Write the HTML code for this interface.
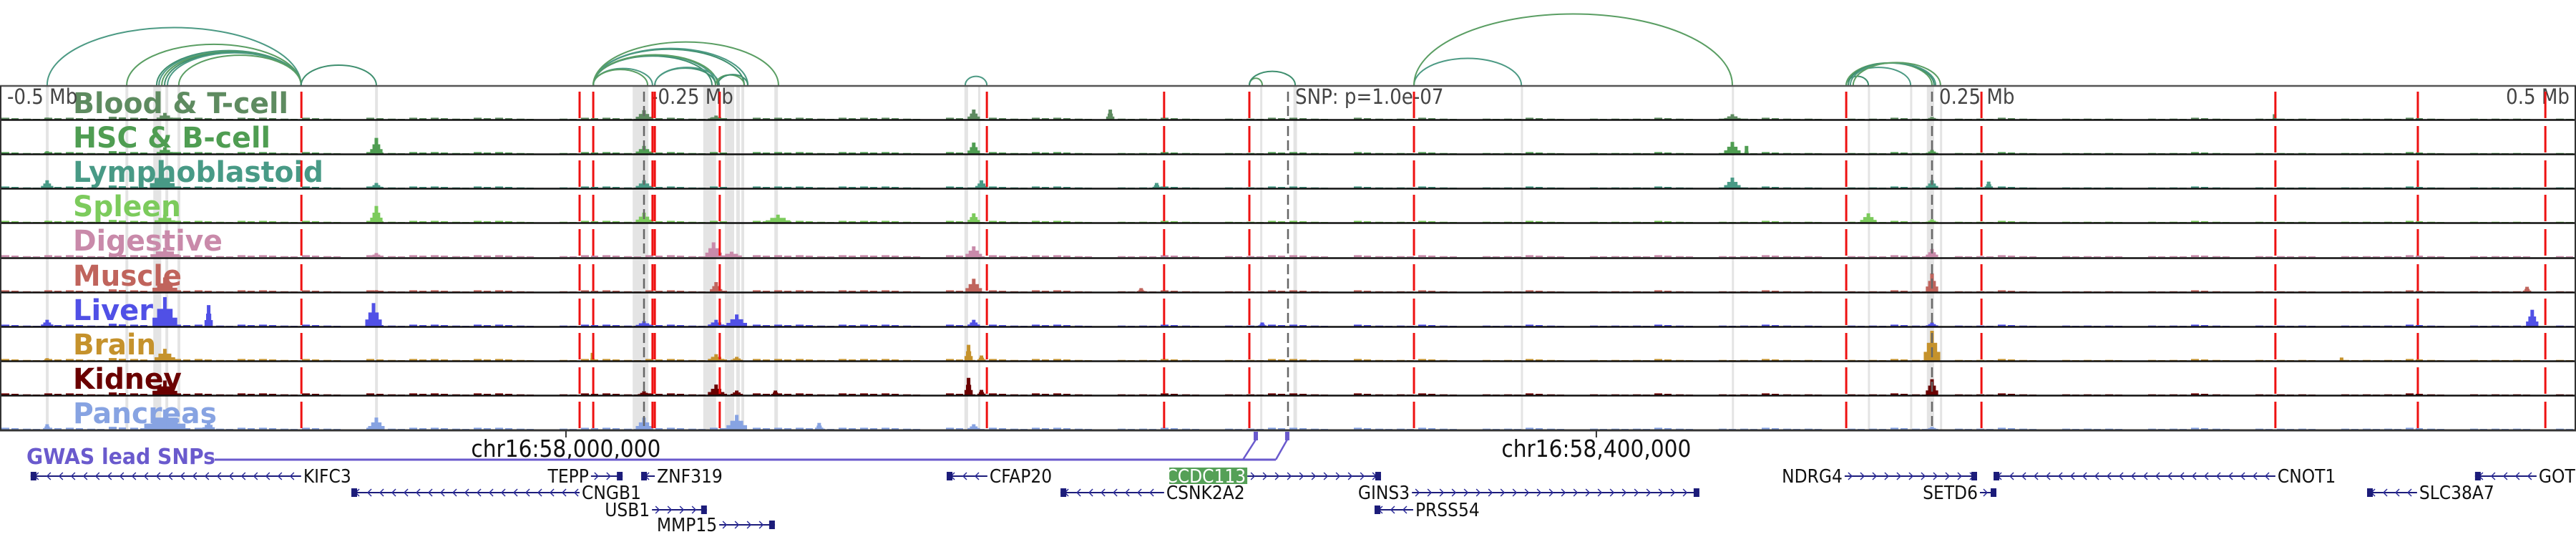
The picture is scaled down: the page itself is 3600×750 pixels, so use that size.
<!DOCTYPE html>
<html><head><meta charset="utf-8"><title>Genome tracks</title>
<style>
html,body{margin:0;padding:0;background:#fff;}
svg{display:block;font-family:"DejaVu Sans Condensed","DejaVu Sans","Liberation Sans Narrow","Liberation Sans",sans-serif;font-stretch:condensed;}
</style></head>
<body>
<svg id="chart" width="3600" height="750" viewBox="0 0 3600 750" xmlns="http://www.w3.org/2000/svg">
  <g id="arcs"></g>
  <g id="bands"></g>
  <g id="labels"></g>
  <g id="signals"></g>
  <g id="frame"></g>
  <g id="vlines"></g>
  <g id="axis"></g>
  <g id="gwas"></g>
  <g id="genes"></g>
</svg>
<script>
// ---- data (positions in kb relative to lead SNP) ----
const trackNames = ["Blood & T-cell","HSC & B-cell","Lymphoblastoid","Spleen","Digestive","Muscle","Liver","Brain","Kidney","Pancreas"];
const peaksBlood = [[-481.7,3,2],[-436,10,4],[-250,14,4],[-222,6,4],[-122,15,3],[-69,15,2],[172.5,8,4],[250,4,3],[383,8,1]];
const peaksHSC = [[-481.7,4,2],[-436,10,4],[-353.9,24,3],[-250,12,4],[-122,17,3],[172.5,18,4],[178,12,1],[250,6,3]];
const peaksLymph = [[-481.7,12,3],[-437,26,6],[-353.9,8,3],[-250,12,4],[-119,12,3],[-51,8,2],[172.5,16,4],[250,12,3],[272,10,2]];
const peaksSpleen = [[-481.7,3,2],[-436,12,5],[-353.9,25,3],[-250,15,4],[-198,12,6],[-122,14,3],[225.3,14,4],[250,5,3]];
const peaksDigestive = [[-436,14,7],[-353.9,6,3],[-223,22,4],[-216,8,5],[-122,16,4],[250,12,3]];
const peaksMuscle = [[-436,22,6],[-353.9,3,3],[-222,15,3],[-122,20,4],[-57,6,2],[250,28,3],[481,8,2]];
const peaksLiver = [[-481.7,10,3],[-436,44,6],[-419,32,2],[-355,35,4],[-250,8,4],[-222,10,4],[-214,18,5],[-122,10,3],[-10,6,2],[250,6,3],[483,25,3]];
const peaksBrain = [[-481.7,4,2],[-436,18,5],[-270,12,1],[-222,10,4],[-214,6,3],[-124,24,2],[-119,8,2],[250,45,4],[409,5,1]];
const peaksKidney = [[-436,22,6],[-250,6,3],[-222,16,4],[-214,7,3],[-199,7,2],[-124,26,2],[-119,8,2],[250,24,3]];
const peaksPancreas = [[-481.7,8,2],[-436,30,10],[-419,12,3],[-353.9,18,4],[-250,18,4],[-214,22,5],[-182,10,2],[-122,8,3],[250,4,3]];
const bgLevels = [2,1,2,2,1,3,2,0,2,2,1,2,2,1,2,1,0,2,1,2,2,1,2,2,1,0,1,2,2,1,
                  2,2,1,2,0,2,2,2,1,2,2,2,1,0,2,1,2,1,2,2,1,0,1,1,2,1,0,1,1,2,
                  2,1,0,2,1,1,2,1,0,1,1,2,1,0,1,1,1,2,1,0,1,1,2,1,1,0,1,1,2,1,
                  0,1,1,2,1,0,1,1,1,0,1,1,2,1,0,1,1,1,0,1,1,1,2,1,0,1,1,1,0,1];
const bandStart = [-482.2,-451.3,-440.5,-435.8,-431.1,-354.4,-254.4,-227,-218.6,-214.2,-212.2,-199.4,-125.6,-120.3,-10.8,2.1,90.4,172.3,225.1,241.5,248,253.1];
const bandEnd   = [-481.1,-450.2,-437.4,-434.7,-430,-353.3,-248.3,-222,-215,-212.8,-211.1,-198,-124.2,-119.5,-10,3.5,91.2,173.1,225.9,242.3,250.8,253.9];
const redLines = [-383,-275,-269.7,-246.7,-245.8,-220.6,-116.9,-48.1,-15,48.9,216.7,269.2,383.3,438.6,488.1];
const snpLines = [-250,0,250];
const arcStart = [-481.7,-450.8,-439.2,-438.3,-437.2,-436.1,-435,-430.6,-383.1,-269.7,-269.7,-269.7,-269.7,-269.7,-269.7,-269.7,-269.7,-245.8,-245.8,-222.2,-221.4,-125.3,-15,-15,48.9,48.9,216.7,216.7,216.7,217.5,218.3,219.4];
const arcEnd   = [-383.1,-383.1,-383.1,-383.1,-383.1,-383.1,-383.1,-383.1,-353.9,-246.7,-248.6,-223.6,-222.2,-221.4,-211.1,-209.7,-197.8,-222.2,-220.8,-211.1,-209.7,-116.9,-10,2.8,90.6,172.5,225.3,241.7,250,250.8,251.4,253.3];
const geneNames = ["KIFC3","TEPP","ZNF319","CNGB1","USB1","MMP15","CFAP20","CCDC113","CSNK2A2","GINS3","PRSS54","NDRG4","SETD6","CNOT1","SLC38A7","GOT2"];
const geneStart = [-488.1,-270.6,-251.1,-363.6,-246.9,-220.8,-132.5,-15.8,-88.3,48.1,33.6,216.1,268.6,273.9,418.9,460.8];
const geneEnd   = [-383.1,-258.3,-245.8,-275,-225.6,-199.2,-116.7,36.1,-48.1,159.7,48.6,267.5,275,383.3,438.3,484.7];
const geneStrand = ["-","+","-","-","+","+","-","+","-","+","-","+","+","-","-","-"];
const geneRow = [0,0,0,1,2,3,0,0,1,1,2,0,1,0,1,0];
const gwasSnps = [-12.5,-0.3];
const tickKb = [-280.3, 119.7];
const tickLabels = ["chr16:58,000,000","chr16:58,400,000"];
const mbLabels = ["-0.5 Mb","-0.25 Mb","SNP: p=1.0e-07","0.25 Mb","0.5 Mb"];
const mbKb = [-500,-250,0,250,500];

// ---- styling ----
const colors = ["#5e8b60","#4f9d52","#489a86","#7ccb5c","#c98aaa","#c0645c","#5050e6","#c5922c","#6a0000","#87a3e2"];
const labelW = [301,276,350,151,209,152,112,116,152,201];
const arcColors = ["#4c9a84","#5a9e63","#3f8f6f"];
const peaksAll = [peaksBlood,peaksHSC,peaksLymph,peaksSpleen,peaksDigestive,peaksMuscle,peaksLiver,peaksBrain,peaksKidney,peaksPancreas];
const rowTops = [120,168,216,264,312,361,409,457,505,553];
const rowH = 48, panelTop = 120, panelBot = 601;
const NS = "http://www.w3.org/2000/svg";
const x = kb => 1800 + kb * 3.6;
const yv = v => v * 42 / 45;
function mk(tag, attrs, parent, text){
  const e = document.createElementNS(NS, tag);
  for (const k in attrs) e.setAttribute(k, attrs[k]);
  if (text !== undefined) e.textContent = text;
  parent.appendChild(e);
  return e;
}
const G = id => document.getElementById(id);

// arcs
arcStart.forEach((s,i)=>{
  const x1 = x(s), x2 = x(arcEnd[i]);
  const spanPx = x2 - x1;
  const h = spanPx*0.21 + 6;
  const rx = spanPx/2;
  const p = mk("path",{d:`M${x1},119 A${rx},${h} 0 0 1 ${x2},119`,fill:"none",stroke:arcColors[i%3],"stroke-width":2},G("arcs"));
  
  
});

// bands
bandStart.forEach((s,i)=>{
  const r = mk("rect",{x:x(s),y:panelTop,width:Math.max(3,x(bandEnd[i])-x(s)),height:panelBot-panelTop,fill:"#e4e4e4"},G("bands"));
  
  
});

// labels
trackNames.forEach((n,i)=>{
  const t = mk("text",{x:102,y:rowTops[i]+38,"font-size":40,"font-weight":"bold",fill:colors[i],textLength:labelW[i],lengthAdjust:"spacingAndGlyphs"},G("labels"),n);
  
  
});

// signals
peaksAll.forEach((peaks,i)=>{
  const base = rowTops[i] + rowH - 1;
  const g = mk("g",{fill:colors[i]},G("signals"));
  
  
  bgLevels.forEach((v,b)=>{
    if(!v) return;
    const xs = x(-500 + b*1000/120);
    const r = mk("rect",{x:xs+2,y:base-v*1.3,width:11,height:v*1.3},g);
    
    
    const r2 = mk("rect",{x:xs+16,y:base-v*1.0,width:10,height:v*1.0},g);
    
    
  });
  peaks.forEach(p=>{
    const cx = x(p[0]), h = yv(p[1]), w = p[2]*3.6;
    const s = mk("rect",{x:cx-w*0.8,y:base-h*0.3,width:w*1.6,height:h*0.3},g);
    
    
    const s2 = mk("rect",{x:cx-w/2,y:base-h*0.6,width:w,height:h*0.6},g);
    
    
    const c = mk("rect",{x:cx-2.5,y:base-h,width:5,height:h},g);
    
    
  });
});

// frame
(function(){
  const f = G("frame");
  const t = mk("line",{x1:0,x2:3600,y1:120,y2:120,stroke:"#555","stroke-width":2.5},f);
  
  
  rowTops.forEach((yt,i)=>{
    if(i===0) return;
    const l = mk("line",{x1:0,x2:3600,y1:yt-0.5,y2:yt-0.5,stroke:"#111","stroke-width":2.5},f);
    
    
  });
  const lb = mk("line",{x1:1,x2:1,y1:120,y2:601,stroke:"#333","stroke-width":2},f);
  
  
  const rb = mk("line",{x1:3599,x2:3599,y1:120,y2:601,stroke:"#333","stroke-width":2},f);
  
  
  mbLabels.forEach((m,i)=>{
    const anchor = i===4 ? "end" : "start";
    const xx = i===0 ? 10 : (i===4 ? 3591 : x(mbKb[i])+10);
    const t2 = mk("text",{x:xx,y:145,"font-size":29,fill:"#444","text-anchor":anchor},f,m);
    
    
  });
})();

// vertical marker lines
rowTops.forEach(yt=>{
  redLines.forEach(k=>{
    const l = mk("line",{x1:x(k),x2:x(k),y1:yt+8,y2:yt+rowH-3,stroke:"#ee1111","stroke-width":3},G("vlines"));
    
    
  });
  snpLines.forEach(k=>{
    const l = mk("line",{x1:x(k),x2:x(k),y1:yt+8,y2:yt+rowH-3,stroke:"#666","stroke-width":2.5,"stroke-dasharray":"14,6"},G("vlines"));
    
    
  });
});

// axis
(function(){
  const a = G("axis");
  const l = mk("line",{x1:0,x2:3600,y1:601,y2:601,stroke:"#333","stroke-width":3},a);
  
  
  tickKb.forEach((k,i)=>{
    const t = mk("line",{x1:x(k),x2:x(k),y1:601,y2:611,stroke:"#333","stroke-width":2},a);
    
    
    const lab = mk("text",{x:x(k),y:638,"font-size":33,fill:"#111","text-anchor":"middle"},a,tickLabels[i]);
    
    
  });
})();

// GWAS
(function(){
  const g = G("gwas");
  const t = mk("text",{x:37,y:648,"font-size":30,"font-weight":"bold",fill:"#6a5acd",textLength:264,lengthAdjust:"spacingAndGlyphs"},g,"GWAS lead SNPs");
  
  
  const branchX = [1737,1783];
  const hl = mk("line",{x1:300,x2:branchX[1],y1:642,y2:642,stroke:"#6a5acd","stroke-width":3},g);
  
  
  gwasSnps.forEach((k,i)=>{
    const c = mk("line",{x1:branchX[i],y1:642,x2:x(k),y2:614,stroke:"#6a5acd","stroke-width":2.5},g);
    
    
    const r = mk("rect",{x:x(k)-3,y:603,width:6,height:12,fill:"#6a5acd"},g);
    
    
  });
})();

// genes
const geneRowY = [665,688,712,733];
geneNames.forEach((n,i)=>{
  const g = mk("g",{},G("genes"));
  
  
  const x1 = x(geneStart[i]), x2 = x(geneEnd[i]), yy = geneRowY[geneRow[i]];
  mk("line",{x1:x1,x2:x2,y1:yy,y2:yy,stroke:"#1c1c7a","stroke-width":2},g);
  let d = "";
  for(let ax = x1+8; ax < x2-4; ax += 17){
    if(geneStrand[i]==="+") d += `M${ax-3},${yy-5} L${ax+2},${yy} L${ax-3},${yy+5} `;
    else d += `M${ax+3},${yy-5} L${ax-2},${yy} L${ax+3},${yy+5} `;
  }
  mk("path",{d:d,fill:"none",stroke:"#2a2a9a","stroke-width":1.5},g);
  const boxX = geneStrand[i]==="+" ? x2-8 : x1;
  mk("rect",{x:boxX,y:yy-6,width:8,height:12,fill:"#1c1c7a"},g);
  const labelRight = geneStrand[i]==="-";
  if(n==="CCDC113"){
    mk("rect",{x:x1-109,y:yy-12,width:109,height:23,fill:"#55a057"},g);
    mk("text",{x:x1-2,y:yy+9,"font-size":26,fill:"#fff","text-anchor":"end"},g,n);
  } else {
    mk("text",{x:labelRight ? x2+3 : x1-3,y:yy+9,"font-size":26,fill:"#111","text-anchor":labelRight?"start":"end"},g,n);
  }
});
</script>
</body></html>
